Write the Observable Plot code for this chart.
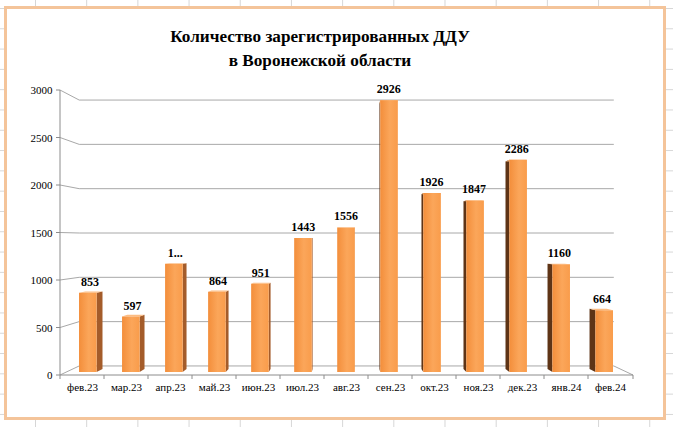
<!DOCTYPE html>
<html>
<head>
<meta charset="utf-8">
<script src="https://cdn.jsdelivr.net/npm/d3@7"></script>
<script src="https://cdn.jsdelivr.net/npm/@observablehq/plot@0.6"></script>
<style>
  html, body { margin: 0; padding: 0; background: #fff; }
  #wrap {
    position: relative; width: 673px; height: 427px; overflow: hidden;
    background-color: #fff;
    background-image:
      linear-gradient(to right, #d6d6d6 1px, transparent 1px),
      linear-gradient(to bottom, #d6d6d6 1px, transparent 1px);
    background-size: 51.2px 20.3px;
    background-position: 35px 8px;
  }
  #frame {
    position: absolute; left: 4px; top: 6px; width: 656px; height: 408px;
    border: 3px solid #f4c49a; background: #fff;
  }
  #title {
    position: absolute; left: 0; top: 25px; width: 640px; text-align: center;
    font-family: "Liberation Serif", "DejaVu Serif Condensed", "DejaVu Serif", serif;
    font-weight: bold; font-size: 17.2px; line-height: 24px; color: #000;
  }
  #chart { position: absolute; left: 0; top: 0; }
</style>
</head>
<body>
<div id="wrap">
  <div id="frame"></div>
  <div id="chart"></div>
  <div id="title">Количество зарегистрированных ДДУ<br>в Воронежской области</div>
</div>
<script>
// ---- data ----
const months = ["фев.23","мар.23","апр.23","май.23","июн.23","июл.23","авг.23","сен.23","окт.23","ноя.23","дек.23","янв.24","фев.24"];
const counts = [853, 597, 1165, 864, 951, 1443, 1556, 2926, 1926, 1847, 2286, 1160, 664];
const countLabels = ["853","597","1...","864","951","1443","1556","2926","1926","1847","2286","1160","664"];
const yTicks = [0, 500, 1000, 1500, 2000, 2500, 3000];

const serif = "'Liberation Serif', 'DejaVu Serif Condensed', 'DejaVu Serif', serif";

// ---- 3D-looking scene drawn through Plot's scales ----
function scene(index, scales, values, dimensions) {
  const x = scales.x, y = scales.y;
  const dim = dimensions || {width: 673, height: 427, marginLeft: 60, marginRight: 40, marginTop: 90, marginBottom: 52};
  const X0 = dim.marginLeft, X1 = dim.width - dim.marginRight;
  const Y0 = y(0), YT = y(yTicks[yTicks.length - 1]);
  const VX = (X0 + X1) / 2, VY = 240;         // vanishing point
  const K = 0.933, SF = 0.978, SB = 0.955, SL = 0.97; // depth factors
  const P = (px, py, s) => [VX + (px - VX) * s, VY + (py - VY) * s];
  const step = x.step ? x.step() : (X1 - X0) / months.length;
  let bw = x.bandwidth ? x.bandwidth() : 0;
  if (!bw) bw = step * 0.42;
  const off = x.bandwidth && x.bandwidth() ? 0 : -bw / 2;
  const line = d3.line();
  const poly = pts => line(pts) + "Z";
  const g = d3.create("svg:g");
  const defs = g.append("defs");
  const grad = defs.append("linearGradient").attr("id", "barFront")
    .attr("x1", "0").attr("x2", "1").attr("y1", "0").attr("y2", "0");
  grad.append("stop").attr("offset", "0").attr("stop-color", "#f38e3b");
  grad.append("stop").attr("offset", "0.55").attr("stop-color", "#fba65a");
  grad.append("stop").attr("offset", "1").attr("stop-color", "#f99c4b");

  // gridlines (left wall + back wall + floor)
  for (const v of yTicks) {
    const yf = y(v);
    const pts = [[X0, yf], P(X0, yf, K), P(X1, yf, K)];
    if (v === 0) pts.push([X1, yf]);
    g.append("path").attr("d", line(pts)).attr("fill", "none")
      .attr("stroke", "#a8a8a8").attr("stroke-width", 1);
  }
  // axis lines
  g.append("path").attr("d", line([[X0, YT], [X0, Y0], [X1, Y0]]))
    .attr("fill", "none").attr("stroke", "#8c8c8c").attr("stroke-width", 1);
  for (const v of yTicks) {
    g.append("path").attr("d", line([[X0 - 4, y(v)], [X0, y(v)]]))
      .attr("stroke", "#8c8c8c").attr("stroke-width", 1);
  }
  const bounds = months.map(m => x(m) + off - (step - bw) / 2).concat([X1]);
  for (const bx of bounds) {
    g.append("path").attr("d", line([[bx, Y0], [bx, Y0 + 4]]))
      .attr("stroke", "#8c8c8c").attr("stroke-width", 1);
  }
  // bars
  months.forEach((m, i) => {
    const x1 = x(m) + off, x2 = x1 + bw, yt = y(counts[i]);
    const cx = (x1 + x2) / 2;
    const left = cx < VX;
    const sx = left ? x2 : x1;
    g.append("path")
      .attr("d", poly([P(sx, yt, SF), P(sx, yt, SB), P(sx, Y0, SB), P(sx, Y0, SF)]))
      .attr("fill", left ? "#a45c2a" : "#5e3416");
    g.append("path")
      .attr("d", poly([P(x1, yt, SF), P(x2, yt, SF), P(x2, yt, SB), P(x1, yt, SB)]))
      .attr("fill", "#fcbc82");
    g.append("path")
      .attr("d", poly([P(x1, yt, SF), P(x2, yt, SF), P(x2, Y0, SF), P(x1, Y0, SF)]))
      .attr("fill", "url(#barFront)");
    const lx = P(cx, yt, SL)[0];
    const ly = P(cx, yt, SF)[1] - 7;
    g.append("text").attr("x", lx).attr("y", ly)
      .attr("text-anchor", "middle").attr("font-weight", "bold")
      .attr("font-size", 12).attr("fill", "#000")
      .text(countLabels[i]);
  });
  return g.node();
}

const chart = Plot.plot({
  width: 673,
  height: 427,
  marginLeft: 60,
  marginRight: 40,
  marginTop: 90,
  marginBottom: 52,
  style: {background: "transparent", fontFamily: serif, fontSize: "11px", color: "#000"},
  x: {type: "band", domain: months, paddingInner: 0.58, paddingOuter: 0.29, tickSize: 0, tickPadding: 8, label: null},
  y: {domain: [0, 3000], ticks: yTicks, tickFormat: d => String(d), tickSize: 0, tickPadding: 8, label: null},
  marks: [scene]
});
document.getElementById("chart").appendChild(chart);
</script>
</body>
</html>
